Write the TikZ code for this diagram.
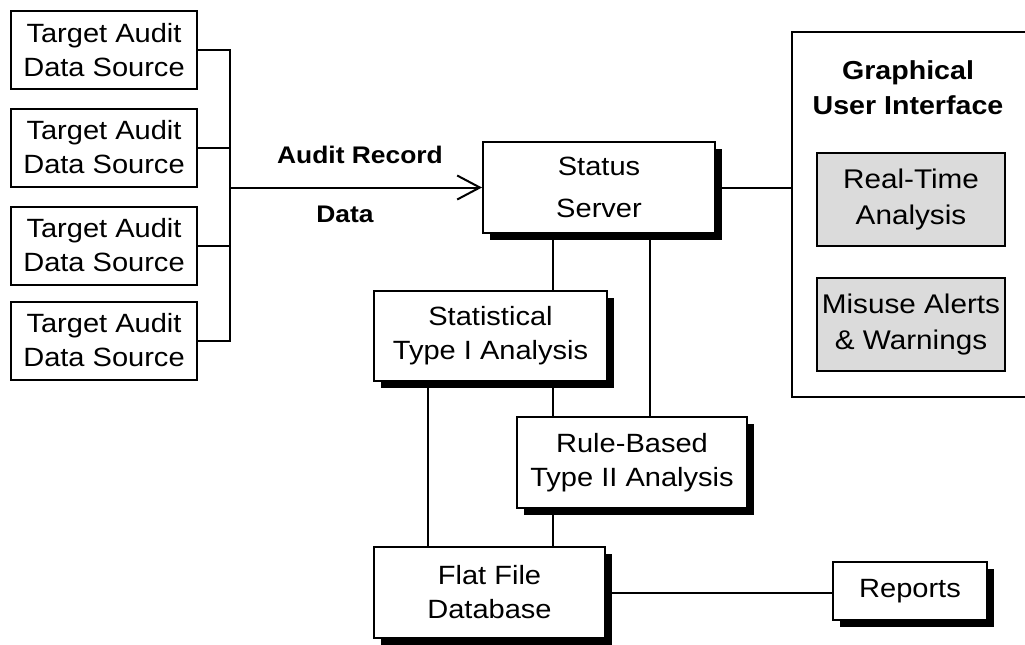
\documentclass[tikz,border=0pt]{standalone}
\usepackage{fontspec}
\setmainfont[FakeStretch=1.1]{Liberation Sans}
\usetikzlibrary{arrows.meta,shadows}
\newcommand{\boxfont}{\fontsize{19.8}{25.5}\selectfont}
\newcommand{\srvfont}{\fontsize{19.8}{31.5}\selectfont}
\newcommand{\labfont}{\fontsize{18}{22}\selectfont\bfseries}
\newcommand{\guifont}{\fontsize{19.5}{26}\selectfont\bfseries}
\newcommand{\shfont}{\fontsize{20.25}{27}\selectfont}
\tikzset{
  box/.style={draw, line width=1.5pt, fill=white, inner sep=0pt, align=center, font=\boxfont},
  shbox/.style={box, drop shadow={shadow xshift=5pt, shadow yshift=-5pt, fill=black, opacity=1}},
  gbox/.style={draw, line width=2pt, fill=gray!28, inner sep=0pt, align=center, font=\shfont,
    minimum width=141pt, minimum height=69.75pt},
  tbox/.style={box, minimum width=139.5pt, minimum height=58.5pt},
  conn/.style={line width=1.5pt},
  lab/.style={font=\labfont, inner sep=0pt},
}
\begin{document}
\begin{tikzpicture}[x=0.75pt,y=-0.75pt]
\useasboundingbox (0,0) rectangle (1025,644);
% helper coordinates
\coordinate (bus) at (230,0);
\coordinate (c428) at (428,0);
\coordinate (c553) at (553,0);
\coordinate (c650) at (650,0);
\coordinate (gui) at (792,0);
% source boxes
\node[tbox] (t1) at (104,50) {Target Audit\\Data Source};
\node[tbox] (t2) at (104,147.5) {Target Audit\\Data Source};
\node[tbox] (t3) at (104,245.5) {Target Audit\\Data Source};
\node[tbox] (t4) at (104,340.5) {Target Audit\\Data Source};
% main boxes
\node[shbox, font=\srvfont, minimum width=174pt, minimum height=68.25pt] (srv) at (599,187.5) {Status\\Server};
\node[shbox, minimum width=174.75pt, minimum height=67.5pt] (stat) at (490.5,336) {Statistical\\Type I Analysis};
\node[shbox, minimum width=172.5pt, minimum height=68.25pt] (rule) at (632,462.5) {Rule-Based\\Type II Analysis};
\node[shbox, minimum width=173.25pt, minimum height=68.25pt] (flat) at (489.5,592.5) {Flat File\\Database};
\node[shbox, minimum width=115.5pt, minimum height=43.5pt] (rep) at (910,591) {Reports};
% GUI panel
\draw[line width=1.4pt] (1026,32) -- (792,32) -- (792,397) -- (1026,397);
\node[font=\guifont, align=center, inner sep=0pt] (gt) at (908,88) {Graphical\\User Interface};
\node[gbox] (rt) at (911,199.5) {Real-Time\\Analysis};
\node[gbox] (mu) at (911,324.5) {Misuse Alerts\\\& Warnings};
% labels
\node[lab] (ar) at (360,155) {Audit Record};
\node[lab] (dt) at (345,214) {Data};
% connectors
\draw[conn] (t1.east) -- (t1.east -| bus) -- (t4.east -| bus) -- (t4.east);
\draw[conn] (t2.east) -- (t2.east -| bus);
\draw[conn] (t3.east) -- (t3.east -| bus);
\draw[conn, -{Straight Barb[length=17pt,width=18pt]}] (srv.west -| bus) -- (srv.west);
\draw[conn] (srv.east) -- (srv.east -| gui);
\draw[conn] (srv.south -| c553) -- (stat.north -| c553);
\draw[conn] (srv.south -| c650) -- (rule.north -| c650);
\draw[conn] (stat.south -| c428) -- (flat.north -| c428);
\draw[conn] (stat.south -| c553) -- (rule.north -| c553);
\draw[conn] (rule.south -| c553) -- (flat.north -| c553);
\draw[conn] (flat.east) -- (flat.east -| rep.west);
\end{tikzpicture}
\end{document}
